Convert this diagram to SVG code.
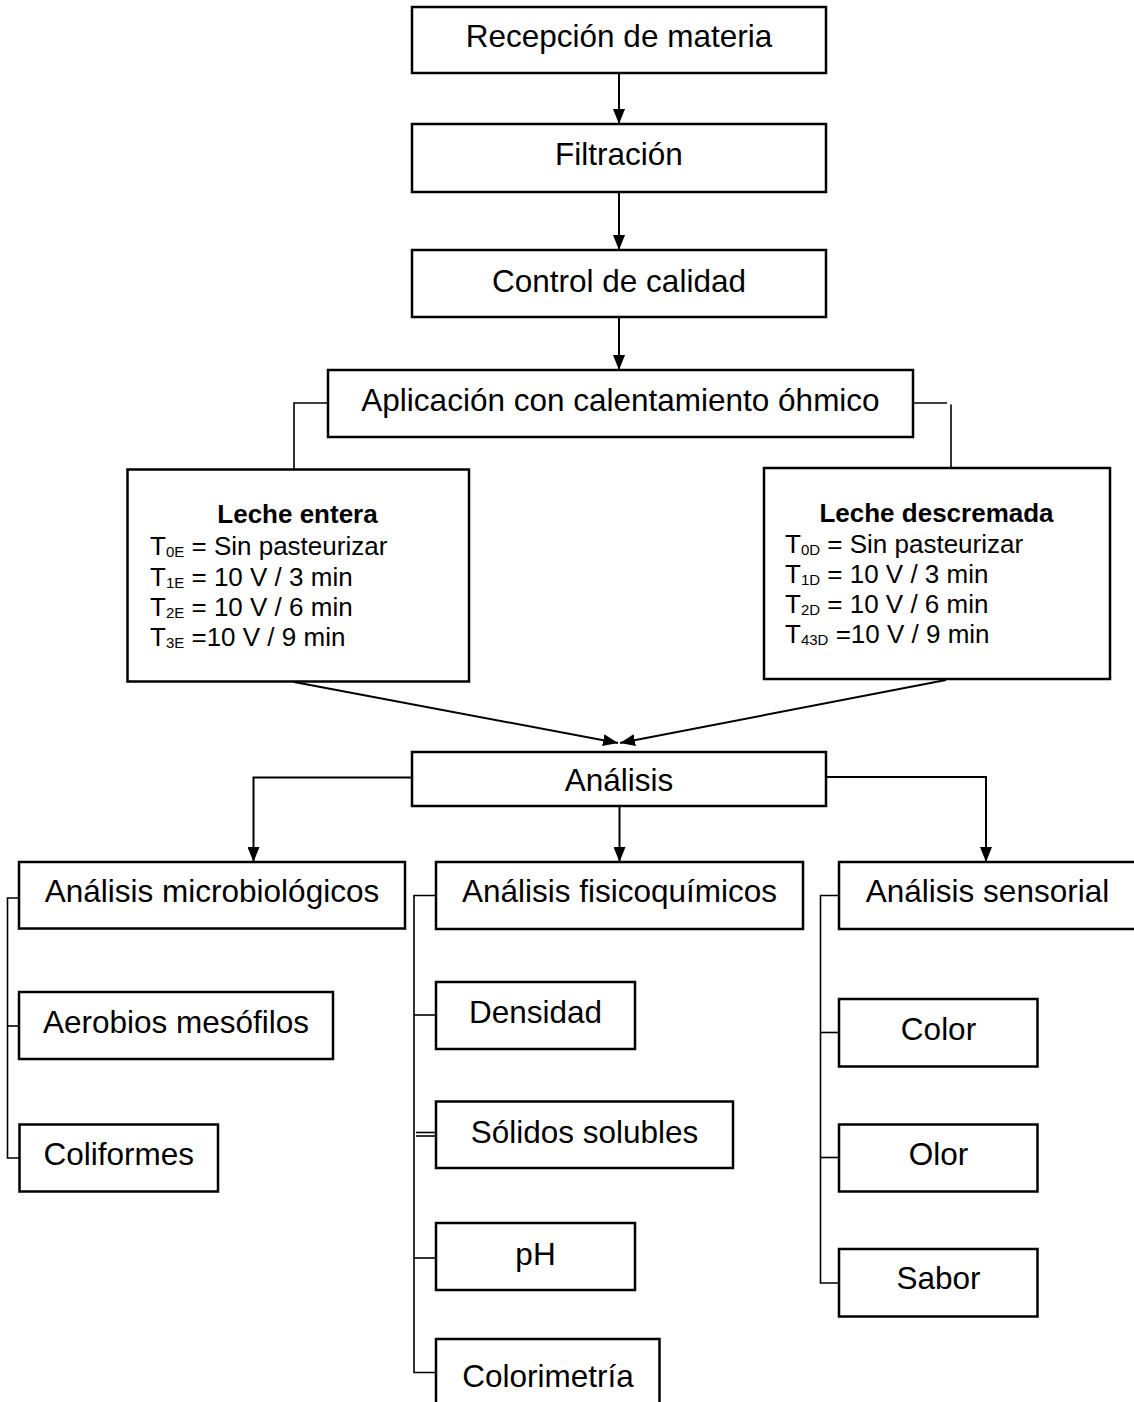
<svg xmlns="http://www.w3.org/2000/svg" width="1134" height="1402" viewBox="0 0 1134 1402">
<defs>
<marker id="ah" markerUnits="userSpaceOnUse" markerWidth="15" markerHeight="12" refX="15" refY="6" orient="auto">
<path d="M0,0 L15,6 L0,12 z" fill="#000"/>
</marker>
<style>
rect{fill:#fff;stroke:#000;stroke-width:2.5}
text{font-family:"Liberation Sans",Arial,sans-serif;font-size:31.5px;fill:#000}
text.c{text-anchor:middle}
text.s{font-size:26px}
text.b{font-size:26px;font-weight:bold;text-anchor:middle}
tspan.sub{font-size:15px}
.ln{fill:none;stroke:#000;stroke-width:2}
.ar{fill:none;stroke:#000;stroke-width:2;marker-end:url(#ah)}
.br{fill:none;stroke:#000;stroke-width:1.6}
</style>
</defs>
<rect x="0" y="0" width="1134" height="1402" style="fill:#fff;stroke:none"/>
<g id="connectors">
<line class="ar" x1="619" y1="73" x2="619" y2="124"/>
<line class="ar" x1="619" y1="192" x2="619" y2="250"/>
<line class="ar" x1="619" y1="317" x2="619" y2="370"/>
<polyline class="br" points="328,403 294,403 294,470"/>
<polyline class="br" points="913,403 947,403"/>
<line class="br" x1="951" y1="404.5" x2="951" y2="468"/>
<line class="ar" x1="294" y1="682" x2="618" y2="743"/>
<line class="ar" x1="946" y1="680" x2="620" y2="743"/>
<polyline class="ar" points="412,777.5 253.5,777.5 253.5,862"/>
<line class="ar" x1="619.5" y1="806" x2="619.5" y2="862"/>
<polyline class="ar" points="826,777 986,777 986,862"/>
<polyline class="br" points="19,898 7.5,898 7.5,1158 19,1158"/>
<line class="br" x1="7.5" y1="1026" x2="19" y2="1026"/>
<polyline class="br" points="436,895.5 414,895.5 414,1372.5 436,1372.5"/>
<line class="br" x1="414" y1="1015" x2="436" y2="1015"/>
<line class="br" x1="416" y1="1132.5" x2="436" y2="1132.5"/>
<line class="br" x1="416" y1="1136" x2="436" y2="1136"/>
<line class="br" x1="414" y1="1258" x2="436" y2="1258"/>
<polyline class="br" points="839,895.5 820.5,895.5 820.5,1283 839,1283"/>
<line class="br" x1="820.5" y1="1032.5" x2="839" y2="1032.5"/>
<line class="br" x1="820.5" y1="1157.5" x2="839" y2="1157.5"/>
</g>
<g id="recepcion"><rect x="412" y="7" width="414" height="66"/><text class="c" x="619" y="47">Recepción de materia</text></g>
<g id="filtracion"><rect x="412" y="124" width="414" height="68"/><text class="c" x="619" y="165">Filtración</text></g>
<g id="control"><rect x="412" y="250" width="414" height="67"/><text class="c" x="619" y="291.5">Control de calidad</text></g>
<g id="aplicacion"><rect x="328" y="370" width="585" height="67"/><text class="c" x="620.5" y="410.5">Aplicación con calentamiento óhmico</text></g>
<g id="leche-entera"><rect x="127.5" y="469.5" width="341.5" height="212"/>
<text class="b" x="297.5" y="523">Leche entera</text>
<text class="s" x="150" y="555">T<tspan class="sub" dy="2">0E</tspan><tspan dy="-2"> = Sin pasteurizar</tspan></text>
<text class="s" x="150" y="586">T<tspan class="sub" dy="2">1E</tspan><tspan dy="-2"> = 10 V / 3 min</tspan></text>
<text class="s" x="150" y="616">T<tspan class="sub" dy="2">2E</tspan><tspan dy="-2"> = 10 V / 6 min</tspan></text>
<text class="s" x="150" y="646">T<tspan class="sub" dy="2">3E</tspan><tspan dy="-2"> =10 V / 9 min</tspan></text>
</g>
<g id="leche-descremada"><rect x="764" y="468" width="346" height="211"/>
<text class="b" x="936.5" y="521.5">Leche descremada</text>
<text class="s" x="785" y="552.5">T<tspan class="sub" dy="2">0D</tspan><tspan dy="-2"> = Sin pasteurizar</tspan></text>
<text class="s" x="785" y="582.5">T<tspan class="sub" dy="2">1D</tspan><tspan dy="-2"> = 10 V / 3 min</tspan></text>
<text class="s" x="785" y="613">T<tspan class="sub" dy="2">2D</tspan><tspan dy="-2"> = 10 V / 6 min</tspan></text>
<text class="s" x="785" y="643">T<tspan class="sub" dy="2">43D</tspan><tspan dy="-2"> =10 V / 9 min</tspan></text>
</g>
<g id="analisis"><rect x="412" y="752" width="414" height="54"/><text class="c" x="619" y="790.5">Análisis</text></g>
<g id="micro"><rect x="19" y="862" width="386" height="66.5"/><text class="c" x="212" y="902">Análisis microbiológicos</text></g>
<g id="fisico"><rect x="436" y="862" width="367" height="67"/><text class="c" x="619.5" y="902">Análisis fisicoquímicos</text></g>
<g id="sensorial"><rect x="839" y="862" width="300" height="67"/><text class="c" x="987.5" y="902">Análisis sensorial</text></g>
<g id="aerobios"><rect x="19" y="992" width="314" height="67"/><text class="c" x="176" y="1032.5">Aerobios mesófilos</text></g>
<g id="coliformes"><rect x="19.5" y="1124.5" width="198.5" height="67"/><text class="c" x="118.7" y="1165">Coliformes</text></g>
<g id="densidad"><rect x="436" y="982" width="199" height="67"/><text class="c" x="535.5" y="1023">Densidad</text></g>
<g id="solidos"><rect x="436" y="1101.5" width="297" height="66.5"/><text class="c" x="584.5" y="1143">Sólidos solubles</text></g>
<g id="ph"><rect x="436" y="1223" width="199" height="67"/><text class="c" x="535.5" y="1265">pH</text></g>
<g id="colorimetria"><rect x="436" y="1339" width="223.5" height="80"/><text class="c" x="548" y="1386.5">Colorimetría</text></g>
<g id="color"><rect x="839" y="999" width="198.5" height="67.5"/><text class="c" x="938.5" y="1040">Color</text></g>
<g id="olor"><rect x="839" y="1124.5" width="198.5" height="67"/><text class="c" x="938.5" y="1165">Olor</text></g>
<g id="sabor"><rect x="839" y="1249" width="198.5" height="67.5"/><text class="c" x="938.5" y="1288.5">Sabor</text></g>
</svg>
